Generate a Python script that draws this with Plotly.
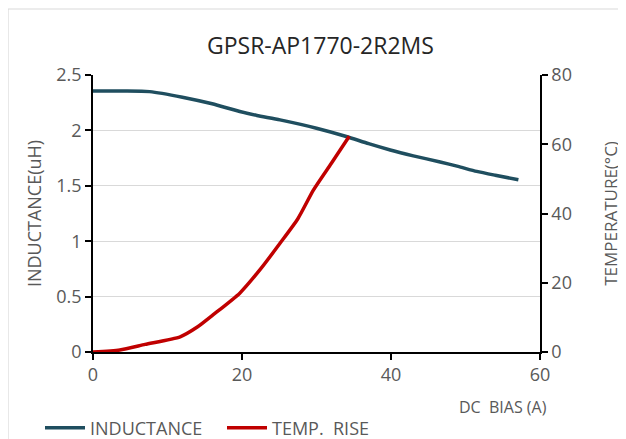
import plotly.graph_objects as go

bias_l = [0, 4, 7.6, 12, 16, 19.7, 22, 25.1, 30, 34, 37, 39.9, 43, 46.6, 49, 51.5, 54, 57.1]
inductance = [2.355, 2.355, 2.35, 2.30, 2.24, 2.17, 2.135, 2.095, 2.02, 1.945, 1.88, 1.823, 1.77, 1.715, 1.675, 1.63, 1.595, 1.555]

bias_t = [0, 3.6, 7, 11.7, 14, 16.1, 19.7, 22.5, 25.1, 27.5, 29.6, 32, 34.4]
temp = [0, 0.6, 2.2, 4.4, 7.2, 10.7, 17, 24, 31.4, 38.5, 46.8, 54.5, 62.3]

# page has an 8px body margin; work in page pixels and convert
OFF = 8
W, H = 626 - OFF, 439 - OFF
PL, PR, PT, PB = 93, 540, 75, 352  # plot area in page pixels
L, T = PL - OFF, PT - OFF
R, B = W - (PR - OFF), H - (PB - OFF)
pw, ph = PR - PL, PB - PT

def px(x):
    return (x - PL) / pw

def py(y):
    return (PB - y) / ph

gray = "#595959"
font = "Open Sans, Noto Sans, sans-serif"

fig = go.Figure()
fig.add_trace(go.Scatter(x=bias_l, y=inductance, mode="lines", name="INDUCTANCE",
                         line=dict(color="#1f4e5f", width=3.5, shape="spline", smoothing=0.6)))
fig.add_trace(go.Scatter(x=bias_t, y=temp, mode="lines", name="TEMP.  RISE", yaxis="y2",
                         line=dict(color="#c00000", width=3.5, shape="spline", smoothing=0.6)))

fig.update_layout(
    width=W, height=H,
    margin=dict(l=L, r=R, t=T, b=B, autoexpand=False),
    paper_bgcolor="white", plot_bgcolor="white",
    font=dict(family=font, color=gray, size=18),
    title=dict(text="GPSR-AP1770-2R2MS", x=px(319), xanchor="center", y=1 - (46 - OFF) / H, yanchor="middle",
               font=dict(size=23, color="#262626", family=font)),
    xaxis=dict(range=[0, 60], tickvals=[0, 20, 40, 60], showgrid=False, zeroline=False,
               showline=True, linecolor="black", linewidth=1.5, ticks="outside", ticklen=6,
               tickcolor="black", tickwidth=1.5, tickfont=dict(size=18, color=gray), automargin=False),
    yaxis=dict(range=[0, 2.5], tickvals=[0, 0.5, 1, 1.5, 2, 2.5], ticktext=["0", "0.5", "1", "1.5", "2", "2.5"],
               showgrid=True, gridcolor="#d9d9d9", gridwidth=1, zeroline=False, automargin=False,
               showline=True, linecolor="black", linewidth=1.5, ticks="outside", ticklen=6,
               tickcolor="black", tickwidth=1.5, tickfont=dict(size=18, color=gray),
               title=dict(text="INDUCTANCE(uH)", font=dict(size=18, color=gray), standoff=10)),
    yaxis2=dict(range=[0, 80], tickvals=[0, 20, 40, 60, 80], overlaying="y", side="right",
                showgrid=False, zeroline=False, showline=True, linecolor="black", linewidth=1.5,
                ticks="outside", ticklen=6, tickcolor="black", tickwidth=1.5, automargin=False,
                tickfont=dict(size=18, color=gray),
                title=dict(text="TEMPERATURE(°C)", font=dict(size=17, color=gray), standoff=34)),
    legend=dict(orientation="h", x=px(40), xanchor="left", y=py(428), yanchor="middle",
                font=dict(size=18, color=gray), bgcolor="rgba(0,0,0,0)", itemwidth=40,
                entrywidth=127, tracegroupgap=0),
    showlegend=True,
)

fig.add_annotation(text="DC  BIAS (A)", xref="paper", yref="paper", x=px(503), y=py(407),
                   xanchor="center", yanchor="middle", showarrow=False,
                   font=dict(size=16, color=gray, family=font))

fig.add_shape(type="rect", xref="paper", yref="paper", x0=px(8), x1=px(640), y0=py(460), y1=py(9),
              line=dict(color="#d9d9d9", width=1.2), fillcolor="rgba(0,0,0,0)", layer="below")

fig.write_html("out.html")
